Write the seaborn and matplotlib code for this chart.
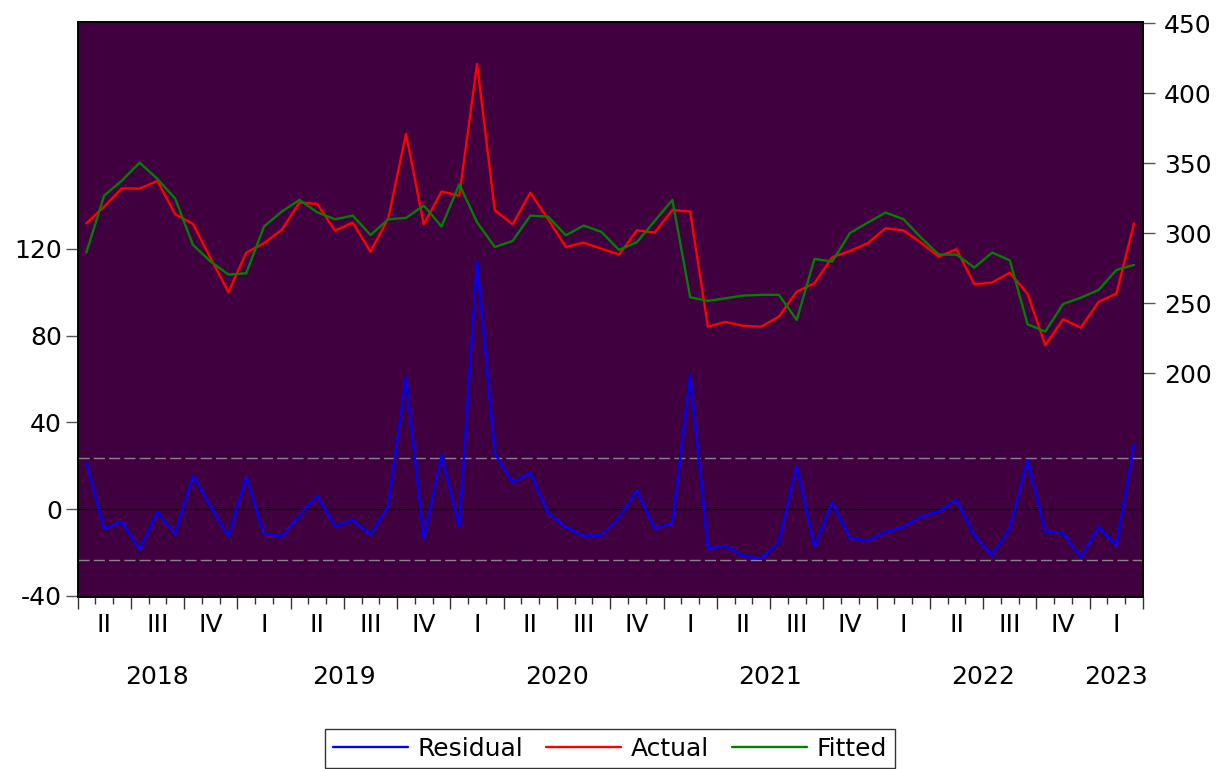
import matplotlib.pyplot as plt
import matplotlib.transforms as mtransforms
import numpy as np
import pandas as pd
import seaborn as sns

# monthly sample 2018M04 - 2023M03
start_month = "2018-04"
n_months = 60
roman = ["I", "II", "III", "IV"]

actual = [
    307.1, 319.0, 332.1, 331.9, 337.4, 313.6, 306.7, 282.1, 257.9, 286.2,
    292.9, 302.4, 321.9, 321.0, 301.9, 307.6, 286.9, 310.7, 371.0, 306.4,
    329.8, 326.9, 420.9, 316.4, 306.4, 329.0, 310.1, 290.2, 293.3, 289.0,
    284.8, 302.1, 300.5, 316.7, 315.5, 233.3, 236.7, 233.8, 233.3, 240.5,
    258.3, 264.3, 282.9, 287.4, 292.9, 303.6, 302.1, 293.3, 283.3, 288.6,
    263.6, 264.8, 271.9, 256.7, 220.0, 238.6, 232.6, 251.0, 256.9, 307.1,
]
fitted = [
    286.2, 326.9, 337.6, 350.5, 338.8, 324.8, 291.7, 279.8, 270.5, 271.4,
    304.8, 315.5, 323.8, 315.0, 310.0, 312.6, 298.8, 310.0, 311.0, 319.8,
    304.8, 335.0, 307.9, 290.2, 294.5, 312.6, 311.9, 298.6, 305.5, 301.0,
    288.1, 293.6, 308.8, 323.8, 254.3, 251.7, 253.6, 255.5, 256.0, 256.0,
    238.1, 281.7, 279.8, 300.2, 307.6, 314.8, 310.2, 296.9, 284.8, 284.8,
    275.5, 286.2, 280.7, 235.0, 229.8, 249.5, 254.0, 259.5, 273.8, 277.4,
]
residual = [
    21.5, -9.1, -5.8, -18.8, -1.4, -11.5, 15.4, 1.2, -12.6, 14.6,
    -11.5, -12.6, -3.1, 6.2, -8.0, -5.1, -11.8, 1.5, 60.9, -13.7,
    24.8, -8.0, 114.2, 25.8, 12.3, 16.6, -1.8, -8.5, -12.3, -12.2,
    -4.0, 8.6, -8.9, -6.6, 61.7, -18.0, -17.2, -21.5, -22.9, -15.2,
    20.0, -17.5, 3.2, -13.4, -14.6, -10.6, -8.2, -3.4, -1.2, 4.3,
    -12.2, -21.4, -8.9, 22.5, -10.3, -11.2, -22.3, -8.3, -16.8, 30.0,
]
se_band = 23.4

left_ticks = [-40, 0, 40, 80, 120]
right_ticks = [200, 250, 300, 350, 400, 450]

periods = pd.period_range(start_month, periods=n_months, freq="M")
df = pd.DataFrame({
    "pos": np.arange(n_months) + 0.5,
    "year": periods.year,
    "quarter": periods.quarter,
    "Residual": residual,
    "Actual": actual,
    "Fitted": fitted,
})

sns.set_theme(style="ticks")
plt.rcParams["font.family"] = ["DejaVu Sans"]
plt.rcParams["text.color"] = "black"
plt.rcParams["axes.unicode_minus"] = False
FS = 18

fig = plt.figure(figsize=(12.25, 7.69), dpi=100)
W, H = 1225, 769
ax = fig.add_axes([77.5 / W, 1 - 596.7 / H, (1143 - 77.5) / W, (596.7 - 22.3) / H])
ax.set_facecolor("#400040")
ax2 = ax.twinx()

lw = 1.7
sns.lineplot(data=df, x="pos", y="Residual", ax=ax, color="#0000ff", lw=lw, label="Residual")
sns.lineplot(data=df, x="pos", y="Actual", ax=ax2, color="#ff0000", lw=lw, label="Actual")
sns.lineplot(data=df, x="pos", y="Fitted", ax=ax2, color="#008000", lw=lw, label="Fitted")

ax.axhline(0, color="black", lw=0.9, zorder=1)
for v in (se_band, -se_band):
    ax.axhline(v, color="#8c8090", lw=1.0, ls=(0, (8, 3)), zorder=1)

ax.set_xlim(0, n_months)
ax.set_ylim(-40.4, 224.5)
ax2.set_ylim(40.4, 450.7)
ax.set_yticks(left_ticks)
ax2.set_yticks(right_ticks)
ax.set_xlabel("")
ax.set_ylabel("")
ax2.set_ylabel("")

ax.set_xticks(np.arange(0, n_months + 1, 3))
ax.set_xticks(np.arange(0, n_months + 1, 1), minor=True)
ax.set_xticklabels([])
ax.tick_params(axis="x", which="major", direction="out", length=8.6, width=1, color="#333333")
ax.tick_params(axis="x", which="minor", direction="out", length=5, width=1, color="#333333")
ax.tick_params(axis="y", direction="out", length=8.6, width=1, color="#555555",
               labelsize=FS, pad=2.5, labelcolor="black")
ax2.tick_params(axis="y", direction="out", length=8.6, width=1, color="#555555",
                labelsize=FS, pad=6.5, labelcolor="black")

for a in (ax, ax2):
    for s in a.spines.values():
        s.set_color("black")
        s.set_linewidth(1.2)
        s.set_visible(True)

# quarter and year labels under the axis
trans = mtransforms.blended_transform_factory(ax.transData, fig.transFigure)
q = df.groupby(["year", "quarter"])["pos"].mean().reset_index()
for _, r in q.iterrows():
    ax.text(r["pos"], 1 - 625 / H, roman[int(r["quarter"]) - 1], transform=trans,
            ha="center", va="center", fontsize=FS, color="black")
yr = df.groupby("year")["pos"].mean()
for y, p in yr.items():
    ax.text(p, 1 - 677 / H, str(y), transform=trans, ha="center", va="center",
            fontsize=FS, color="black")

h1, l1 = ax.get_legend_handles_labels()
h2, l2 = ax2.get_legend_handles_labels()
for a in (ax, ax2):
    if a.get_legend() is not None:
        a.get_legend().remove()
leg = fig.legend(h1 + h2, l1 + l2, loc="upper center", bbox_to_anchor=(610 / W, 1 - 729 / H),
                 ncol=3, fontsize=FS, frameon=True, fancybox=False, edgecolor="black",
                 handlelength=3.0, handletextpad=0.4, columnspacing=0.9, borderpad=0.3,
                 borderaxespad=0, labelcolor="black")
leg.get_frame().set_linewidth(1.0)

fig.savefig("out.png", dpi=100)
